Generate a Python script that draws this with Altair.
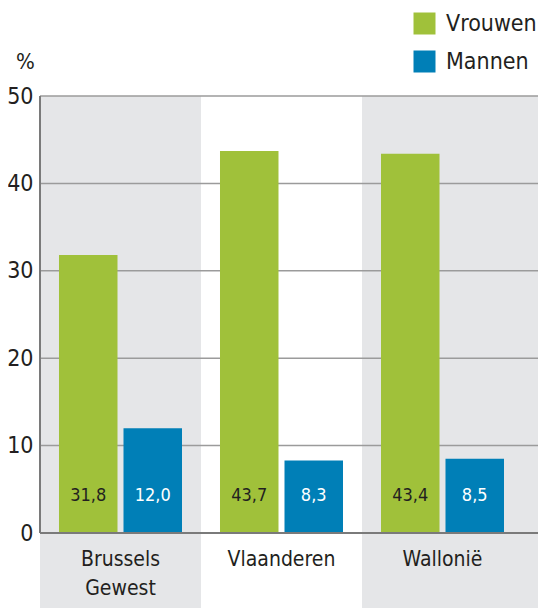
import altair as alt
import pandas as pd

regions = ["Brussels Gewest", "Vlaanderen", "Wallonië"]
vrouwen = [31.8, 43.7, 43.4]
mannen = [12.0, 8.3, 8.5]
series = ["Vrouwen", "Mannen"]
y_ticks = [0, 10, 20, 30, 40, 50]

FONT = "DejaVu Sans Condensed, Liberation Sans, sans-serif"
GREEN = "#A0C13A"
BLUE = "#007FB7"
BAND_GRAY = "#E5E6E8"
TXT = "#231F20"

rows = []
for r, v, m in zip(regions, vrouwen, mannen):
    rows.append({"region": r, "sex": "Vrouwen", "value": v, "label": f"{v:.1f}".replace(".", ",")})
    rows.append({"region": r, "sex": "Mannen", "value": m, "label": f"{m:.1f}".replace(".", ",")})
df = pd.DataFrame(rows)
reg_df = pd.DataFrame({"region": regions})
grid_df = pd.DataFrame({"v": y_ticks[1:]})

x_scale = alt.Scale(domain=regions, paddingInner=0, paddingOuter=0.0466, align=0)
y_scale = alt.Scale(domain=[-8.58, 50], nice=False, zero=False)
xo_scale = alt.Scale(domain=series, paddingInner=0.093, paddingOuter=0.2945)

X = alt.X("region:N", scale=x_scale, axis=None, sort=regions)

white_band = alt.Chart(reg_df).transform_filter(
    alt.datum.region == "Vlaanderen"
).mark_rect(color="white").encode(x=X)

grid = alt.Chart(grid_df).mark_rule(color="#9B9B9B", strokeWidth=1.5).encode(
    y=alt.Y("v:Q", scale=y_scale,
            axis=alt.Axis(values=y_ticks, grid=False, domain=False, ticks=False,
                          labelFont=FONT, labelFontSize=23, labelColor=TXT,
                          labelPadding=7, title="%", titleAngle=0, titleFont=FONT,
                          titleFontSize=22, titleFontWeight="normal", titleColor=TXT,
                          titleX=-15, titleY=-35, titleAlign="center",
                          titleBaseline="middle"))
)

bars = alt.Chart(df).mark_bar().encode(
    x=X,
    xOffset=alt.XOffset("sex:N", scale=xo_scale, sort=series),
    y=alt.Y("value:Q", scale=y_scale),
    y2=alt.datum(0),
    color=alt.Color("sex:N", scale=alt.Scale(domain=series, range=[GREEN, BLUE]),
                    sort=series,
                    legend=alt.Legend(title=None, orient="none", legendX=373, legendY=-84,
                                      symbolType="square", symbolSize=484,
                                      symbolStrokeWidth=0, symbolOpacity=1,
                                      labelFont=FONT, labelFontSize=23,
                                      labelColor=TXT, labelOffset=10,
                                      rowPadding=14)),
)

values = alt.Chart(df).mark_text(font=FONT, fontSize=18, baseline="middle").encode(
    x=X,
    xOffset=alt.XOffset("sex:N", scale=xo_scale, sort=series),
    y=alt.datum(4.2),
    text="label:N",
    color=alt.condition(alt.datum.sex == "Vrouwen", alt.value(TXT), alt.value("white")),
)

baseline = alt.Chart(reg_df).mark_rule(color="#7a7a7a", strokeWidth=2).encode(y=alt.datum(0))
left_line = alt.Chart(reg_df).mark_rule(color="#7a7a7a", strokeWidth=2).encode(
    x=alt.value(0), y=alt.datum(0), y2=alt.datum(50)
)

cat_labels = alt.Chart(reg_df).mark_text(
    font=FONT, fontSize=21, baseline="top", lineBreak=" ", lineHeight=29, color=TXT
).encode(x=X, y=alt.datum(-1.8), text="region:N")

chart = alt.layer(
    white_band, grid, bars, values, baseline, left_line, cat_labels
).properties(
    width=498, height=512,
    autosize=alt.AutoSizeParams(type="none"),
    padding={"left": 32, "top": 88, "right": 0, "bottom": 0},
).configure_view(fill=BAND_GRAY, stroke=None)

chart.save("out.html", embed_options={"renderer": "svg", "actions": False})
